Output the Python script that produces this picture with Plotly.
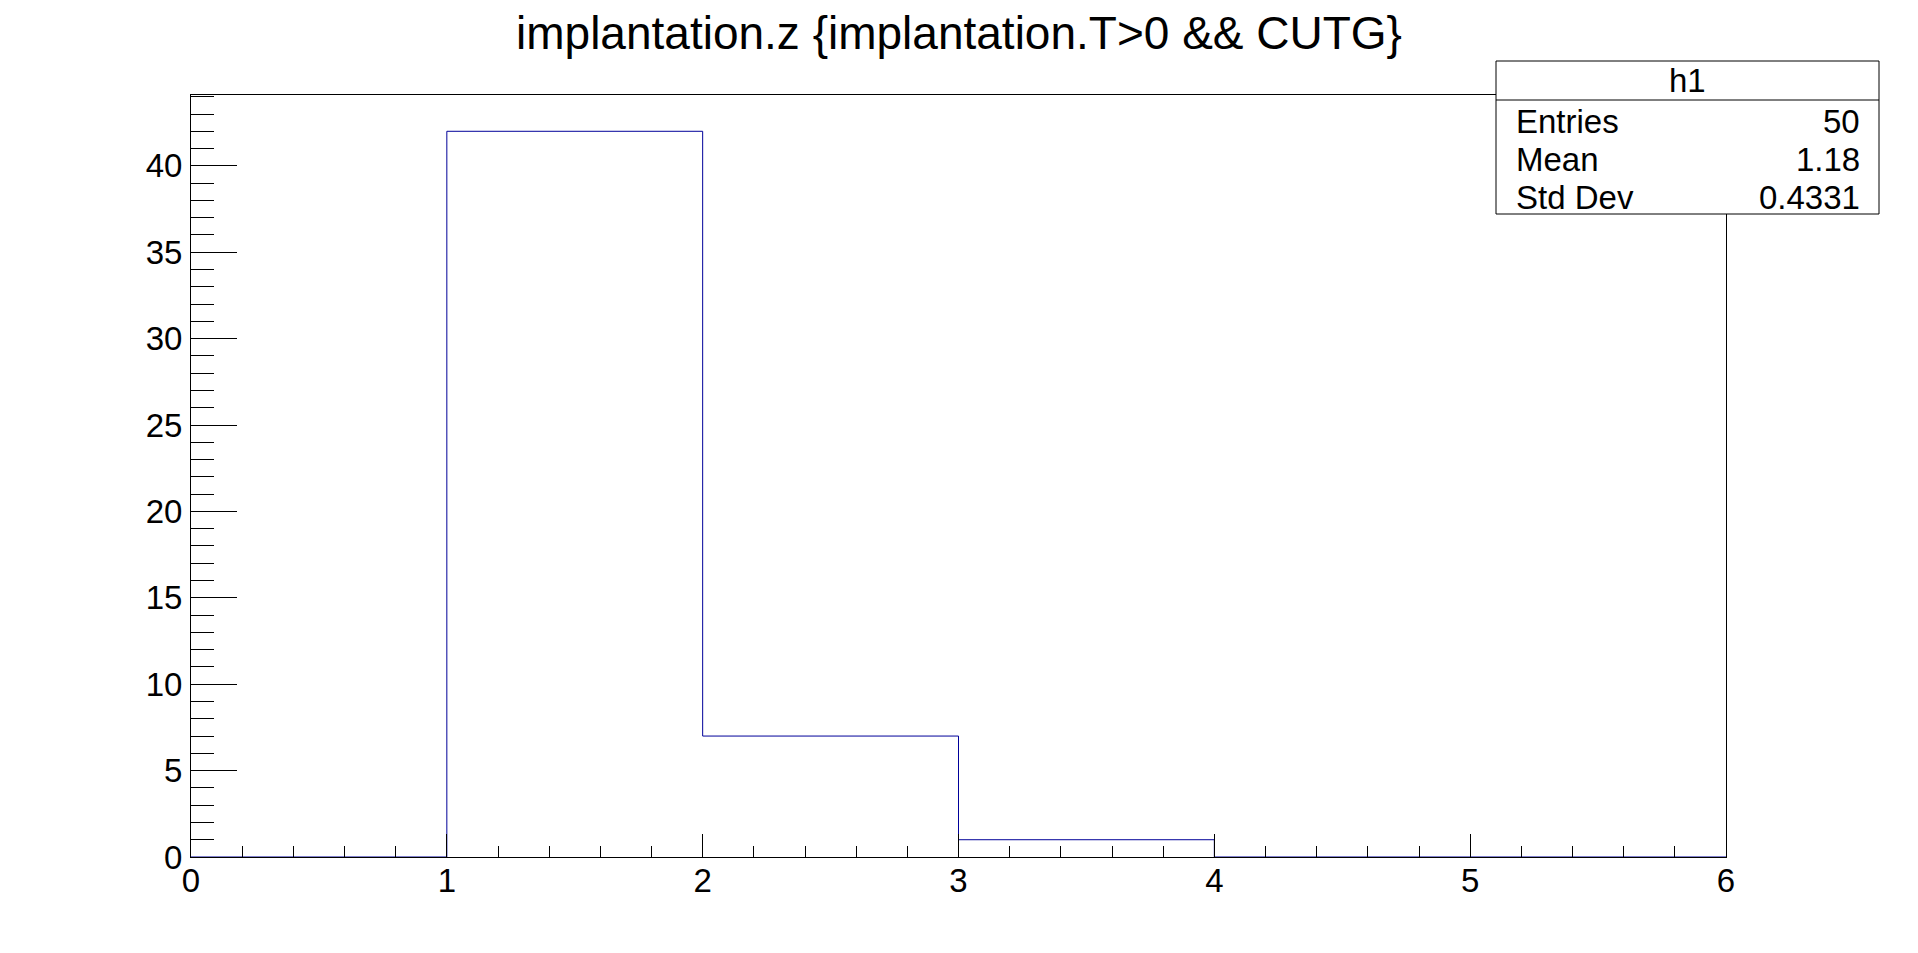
import plotly.graph_objects as go

# ---- data ----
bin_edges = [0, 1, 2, 3, 4, 5, 6]
bin_counts = [0, 42, 7, 1, 0, 0]
title_text = "implantation.z {implantation.T>0 && CUTG}"
stats_name = "h1"
stats_labels = ["Entries", "Mean", "Std Dev"]
stats_values = ["50", "1.18", "0.4331"]
x_range = [0, 6]
y_range = [0, 44.1]

W, H = 1918, 953
L, R, T, B = 191, 1726, 95, 857
FONT = "Liberation Sans, Arial, Helvetica, sans-serif"

def px(x):
    return (x - L) / (R - L)

def py(y):
    return (B - y) / (B - T)

step_x = list(bin_edges)
step_y = list(bin_counts) + [bin_counts[-1]]

fig = go.Figure()
fig.add_trace(go.Scatter(
    x=step_x, y=step_y, mode="lines", line_shape="hv",
    line=dict(color="#000099", width=1), hoverinfo="skip", showlegend=False,
))

fig.update_layout(
    width=W, height=H,
    margin=dict(l=L, r=W - R, t=T, b=H - B, pad=0),
    paper_bgcolor="white", plot_bgcolor="white",
    font=dict(family=FONT, color="black"),
    showlegend=False,
    title=dict(text=title_text, x=959 / W, xanchor="center",
               y=1 - 33 / H, yanchor="middle", yref="container",
               font=dict(size=46, family=FONT, color="black")),
)
fig.update_xaxes(
    range=x_range, showgrid=False, zeroline=False,
    showline=True, linecolor="black", linewidth=1, mirror=True,
    ticks="inside", ticklen=23, tickcolor="black", tickwidth=1, dtick=1, tick0=0,
    minor=dict(ticks="inside", ticklen=11, dtick=0.2, tickcolor="black", showgrid=False),
    tickfont=dict(size=33, family=FONT), ticklabelstandoff=-6,
    layer="above traces",
)
fig.update_yaxes(
    range=y_range, showgrid=False, zeroline=False,
    showline=True, linecolor="black", linewidth=1, mirror=True,
    ticks="inside", ticklen=46, tickcolor="black", tickwidth=1, dtick=5, tick0=0,
    minor=dict(ticks="inside", ticklen=23, dtick=1, tickcolor="black", showgrid=False),
    tickfont=dict(size=33, family=FONT), ticklabelstandoff=1,
    layer="above traces",
)

# stats box
bx0, bx1, by0, by1, hy = 1496, 1879, 61, 214, 100
fig.add_shape(type="rect", xref="paper", yref="paper",
              x0=px(bx0), x1=px(bx1), y0=py(by1), y1=py(by0),
              line=dict(color="black", width=1), fillcolor="white", layer="above")
fig.add_shape(type="line", xref="paper", yref="paper",
              x0=px(bx0), x1=px(bx1), y0=py(hy), y1=py(hy),
              line=dict(color="black", width=1), layer="above")
fig.add_annotation(text=stats_name, x=px((bx0 + bx1) / 2), y=py(81), xref="paper", yref="paper",
                   xanchor="center", yanchor="middle", showarrow=False,
                   font=dict(size=33, family=FONT, color="black"))
row_y = [121, 159, 197]
for lab, val, ry in zip(stats_labels, stats_values, row_y):
    fig.add_annotation(text=lab, x=px(1514), y=py(ry), xref="paper", yref="paper",
                       xanchor="left", yanchor="middle", showarrow=False,
                       font=dict(size=33, family=FONT, color="black"))
    fig.add_annotation(text=val, x=px(1862), y=py(ry), xref="paper", yref="paper",
                       xanchor="right", yanchor="middle", showarrow=False,
                       font=dict(size=33, family=FONT, color="black"))

fig.write_html("out.html", config={"displayModeBar": False},
               post_script="document.body.style.margin='0px';")
